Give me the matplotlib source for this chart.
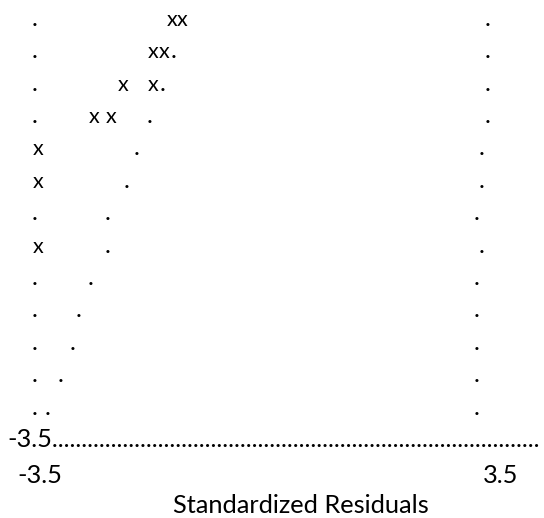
import matplotlib
matplotlib.use("Agg")
import matplotlib.pyplot as plt

# text-style residual plot: each row of the chart holds "x" points and "." guide marks
# x marks (row number, standardized residual)
x_rows = [1, 1, 2, 2, 3, 3, 4, 4, 5, 6, 8]
x_vals = [-1.50, -1.34, -1.78, -1.62, -2.24, -1.78, -2.68, -2.42, -3.53, -3.53, -3.53]

# "." marks (row number, standardized residual)
dot_rows = [1, 1,
            2, 2, 2,
            3, 3, 3,
            4, 4, 4,
            5, 5,
            6, 6,
            7, 7, 7,
            8, 8,
            9, 9, 9,
            10, 10, 10,
            11, 11, 11,
            12, 12, 12,
            13, 13, 13]
dot_vals = [-3.58, 3.30,
            -3.58, -1.47, 3.30,
            -3.58, -1.64, 3.30,
            -3.58, -1.83, 3.30,
            -2.03, 3.21,
            -2.19, 3.21,
            -3.58, -2.47, 3.13,
            -2.47, 3.21,
            -3.58, -2.73, 3.13,
            -3.58, -2.92, 3.13,
            -3.58, -3.01, 3.13,
            -3.58, -3.18, 3.13,
            -3.58, -3.38, 3.13]

x_limits = [-3.5, 3.5]
x_tick_labels = ["-3.5", "3.5"]
x_title = "Standardized Residuals"

plt.rcParams['font.family'] = ['Lato', 'DejaVu Sans']
fs = 18.3
fs_x = 15.5

fig = plt.figure(figsize=(5.44, 5.18), dpi=100)
ax = fig.add_axes([0, 0, 1, 1])
ax.set_xlim(-4.107, 4.153)
ax.set_ylim(16.19, 0.207)
ax.axis('off')

for r, v in zip(x_rows, x_vals):
    ax.text(v, r, "x", fontsize=fs_x, ha='center', va='baseline')
for r, v in zip(dot_rows, dot_vals):
    ax.text(v, r, ".", fontsize=fs, ha='center', va='baseline')

# bottom axis line made of dots, with the lower limit written in front;
# add dots until the line reaches the right edge
line = ax.text(-3.99, 14, x_tick_labels[0], fontsize=fs, ha='left', va='baseline')
renderer = fig.canvas.get_renderer()
n = 0
while True:
    line.set_text(x_tick_labels[0] + "." * (n + 1))
    if line.get_window_extent(renderer).x1 > fig.bbox.width - 1:
        line.set_text(x_tick_labels[0] + "." * n)
        break
    n += 1

# tick labels and axis title
for v, lab in zip(x_limits, x_tick_labels):
    ax.text(v, 15.1, lab, fontsize=fs, ha='center', va='baseline')
ax.text(0.46, 16.05, x_title, fontsize=fs, ha='center', va='baseline')

plt.savefig("out.png", dpi=100)
